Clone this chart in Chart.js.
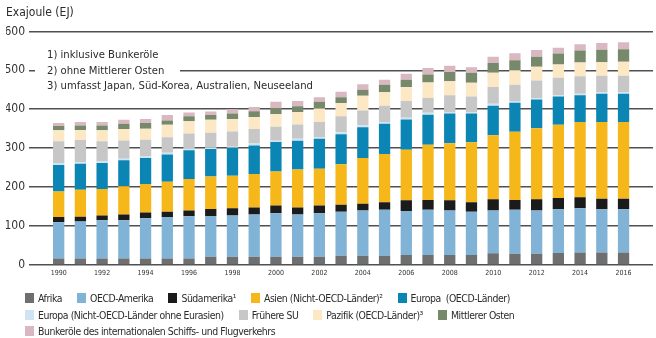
<!DOCTYPE html>
<html>
<head>
<meta charset="utf-8">
<script src="https://cdn.jsdelivr.net/npm/chart.js@4"></script>
<style>
html, body { margin: 0; padding: 0; background: #fff; }
#wrap { position: relative; width: 656px; height: 338px; font-family: 'Liberation Sans Narrow', 'DejaVu Sans Condensed', 'Roboto', sans-serif; color: #2b2b2b; }
#chartBox { position: absolute; left: 0; top: 0; width: 656px; height: 338px; }
#notes { position: absolute; left: 35px; top: 47px; font-size: 11.2px; line-height: 15.5px; }
#notes div { display: table; background: #fff; padding: 0 16px 0 12px; }
#legend { position: absolute; left: 25px; top: 290px; width: 620px; display: flex; flex-wrap: wrap; column-gap: 15px; font-size: 10.4px; letter-spacing: -0.45px; line-height: 16.5px; }
#legend .item { display: flex; align-items: center; white-space: nowrap; }
#legend .box { width: 9px; height: 10px; margin-right: 4px; }
</style>
</head>
<body>
<div id="wrap">
  <div id="chartBox"><canvas id="energyChart"></canvas></div>
  <div id="notes"></div>
  <div id="legend"></div>
</div>
<script>
// Energieverbrauch nach Regionen, Exajoule
var years = [1990, 1991, 1992, 1993, 1994, 1995, 1996, 1997, 1998, 1999, 2000, 2001, 2002, 2003,
             2004, 2005, 2006, 2007, 2008, 2009, 2010, 2011, 2012, 2013, 2014, 2015, 2016];
var yTicks = [0, 100, 200, 300, 400, 500, 600];

var afrika       = [17,17,17,17,17,17,17,21,21,21,21,21,21,24,24,24,26,26,26,26,30,29,29,31,32,32,32];
var oecdAmerika  = [93,95,98,98,103,106,108,105,106,109,112,109,112,113,116,118,113,116,114,111,110,113,111,112,114,111,111];
var suedamerika  = [13,12,12,15,15,14,15,18,19,18,20,18,20,18,17,19,27,25,26,24,29,25,29,29,28,27,27];
var asien        = [66,69,68,72,73,77,81,83,83,86,87,97,94,104,118,124,130,142,147,154,164,175,182,188,193,197,197];
var europaOecd   = [68,67,67,67,67,70,74,71,72,73,76,74,77,77,79,78,78,77,76,74,76,75,74,73,69,73,73];
var europaNicht  = [5,4,4,4,4,4,4,4,3,5,3,5,5,5,5,4,4,5,3,3,5,4,3,3,4,3,3];
var fruehereSU   = [56,57,52,47,43,40,39,38,39,37,36,37,38,41,38,42,43,38,44,41,43,42,46,45,45,43,43];
var pazifik      = [28,26,28,29,28,32,31,33,32,31,33,32,35,34,38,35,36,40,36,35,37,37,35,34,35,35,36];
var mittlererOst = [11,11,12,14,15,11,13,12,14,15,15,15,17,15,15,19,19,20,24,26,25,26,26,28,31,32,32];
var bunker       = [8,9,9,10,10,14,10,9,11,11,16,13,12,14,14,13,15,17,16,14,16,18,17,15,16,17,18];

var seriesNames = ['Afrika', 'OECD-Amerika', 'Südamerika¹', 'Asien (Nicht-OECD-Länder)²', 'Europa  (OECD-Länder)',
                   'Europa (Nicht-OECD-Länder ohne Eurasien)', 'Frühere SU', 'Pazifik (OECD-Länder)³',
                   'Mittlerer Osten', 'Bunkeröle des internationalen Schiffs- und Flugverkehrs'];
var seriesValues = [afrika, oecdAmerika, suedamerika, asien, europaOecd, europaNicht, fruehereSU, pazifik, mittlererOst, bunker];
var seriesColors = ['#6e6f71', '#80b3d6', '#1b1b1b', '#f6b71a', '#0b85b4', '#cfe4f3', '#c7c7c7', '#fde8c5', '#76896b', '#d9b8c2'];

var footnotes = ['1) inklusive Bunkeröle', '2) ohne Mittlerer Osten', '3) umfasst Japan, Süd-Korea, Australien, Neuseeland'];

var FONT = "'Liberation Sans Narrow', 'DejaVu Sans Condensed', 'Roboto', sans-serif";

// footnotes + legend as html
var notesEl = document.getElementById('notes');
footnotes.forEach(function (t) {
    var d = document.createElement('div');
    d.textContent = t;
    notesEl.appendChild(d);
});

var legendEl = document.getElementById('legend');
for (var i = 0; i < seriesNames.length; i++) {
    var item = document.createElement('div');
    item.className = 'item';
    var box = document.createElement('span');
    box.className = 'box';
    box.style.background = seriesColors[i];
    var txt = document.createElement('span');
    txt.style.whiteSpace = 'pre';
    txt.textContent = seriesNames[i];
    item.appendChild(box);
    item.appendChild(txt);
    legendEl.appendChild(item);
}

var datasets = [];
for (var s = 0; s < seriesNames.length; s++) {
    datasets.push({
        label: seriesNames[s],
        data: years.map(function (yr, k) { return { x: yr, y: seriesValues[s][k] }; }),
        backgroundColor: seriesColors[s],
        borderWidth: 0,
        categoryPercentage: 1,
        barPercentage: 0.52
    });
}

new Chart(document.getElementById('energyChart'), {
    type: 'bar',
    data: { datasets: datasets },
    options: {
        responsive: true,
        maintainAspectRatio: false,
        animation: false,
        layout: { padding: { left: 6, right: 3, top: 4, bottom: 61 } },
        plugins: {
            legend: { display: false },
            tooltip: { enabled: false },
            title: {
                display: true,
                text: 'Exajoule (EJ)',
                align: 'start',
                color: '#2b2b2b',
                font: { family: FONT, size: 12, weight: 'normal' },
                padding: { top: 2, bottom: 11 }
            }
        },
        scales: {
            x: {
                type: 'linear',
                stacked: true,
                min: 1989.66,
                max: 2016.33,
                grid: { display: false, drawTicks: false },
                border: { display: false },
                afterFit: function (scale) { scale.height = 12; },
                afterBuildTicks: function (scale) {
                    scale.ticks = years.filter(function (y) { return y % 2 === 0; }).map(function (y) { return { value: y }; });
                },
                ticks: {
                    autoSkip: false,
                    maxRotation: 0,
                    padding: 4,
                    color: '#333',
                    font: { family: FONT, size: 7 },
                    callback: function (v) { return String(v); }
                }
            },
            y: {
                stacked: true,
                min: 0,
                max: 600,
                afterFit: function (scale) { scale.width = 23; },
                afterBuildTicks: function (scale) {
                    scale.ticks = yTicks.map(function (v) { return { value: v }; });
                },
                grid: { color: '#505050', lineWidth: 1.6, drawTicks: false },
                border: { display: false },
                ticks: {
                    padding: 4,
                    color: '#333',
                    font: { family: FONT, size: 12 }
                }
            }
        }
    }
});
</script>
</body>
</html>
